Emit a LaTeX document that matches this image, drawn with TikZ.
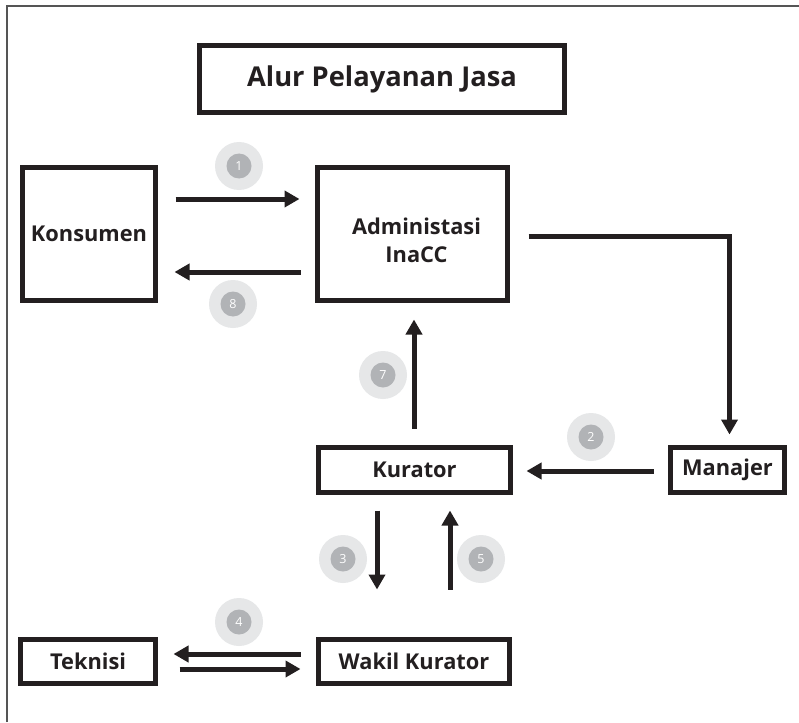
\documentclass[tikz,border=0pt]{standalone}
\usepackage{fontspec}
\setmainfont{Open Sans}
\usetikzlibrary{arrows.meta,calc}
\definecolor{ink}{HTML}{231F20}
\definecolor{framec}{HTML}{555555}
\definecolor{outerc}{HTML}{E6E7E8}
\definecolor{innerc}{HTML}{B1B3B6}
\tikzset{
  box/.style={draw=ink, line width=5pt, fill=white, inner sep=0pt, text=ink, align=center,
    font=\bfseries\fontsize{21.8}{28}\selectfont},
  arr/.style={draw=ink, line width=5pt, -{Triangle[length=15pt,width=16pt]}},
  halo/.style={circle, fill=outerc, minimum size=48pt, inner sep=0pt},
  dot/.style={circle, fill=innerc, minimum size=25pt, inner sep=0pt, text=white,
    font=\fontsize{12.5}{14}\selectfont}
}
\begin{document}
\begin{tikzpicture}[x=1pt,y=-1pt]
\useasboundingbox (0,0) rectangle (799,722);
\fill[white] (0,0) rectangle (799,722);
\draw[framec, line width=2pt] (6.5,722) -- (6.5,6.5) -- (799,6.5);

\node[box, minimum width=365pt, minimum height=67pt, font=\bfseries\fontsize{27.3}{32}\selectfont] (title) at (382,79) {Alur Pelayanan Jasa};
\node[box, minimum width=133pt, minimum height=133pt] (kons) at (89,234) {Konsumen};
\node[box, minimum width=190pt, minimum height=133pt] (admin) at (412.5,234) {};
\node[text=ink, align=center, inner sep=0pt, font=\bfseries\fontsize{21.8}{28}\selectfont] (admintext) at ($(admin.center)+(4,6)$) {Administasi\\InaCC};
\node[box, minimum width=192pt, minimum height=45pt] (kurator) at (414.5,470) {Kurator};
\node[box, minimum width=114pt, minimum height=45pt] (manajer) at (727.5,470) {Manajer};
\node[box, minimum width=191pt, minimum height=44pt] (wakil) at (414,661.5) {Wakil Kurator};
\node[box, minimum width=135pt, minimum height=44pt] (teknisi) at (88,661.5) {Teknisi};

% step markers
\foreach \n/\x/\y in {1/239/166, 8/233/304, 2/591/437, 7/383/375, 3/343/559, 5/481/559, 4/239/622}{
  \node[halo] (h\n) at (\x,\y) {};
  \node[dot] (d\n) at (h\n) {\n};
}

% connectors
\draw[arr] ($(kons.east)+(17.5,-35)$) -- ($(admin.west)+(-15.5,-35)$);
\draw[arr] ($(admin.west)+(-14.5,38)$) -- ($(kons.east)+(16.5,38)$);
\draw[arr, miter limit=10] ($(admin.east)+(18.5,2)$) -| ($(manajer.north)+(2,-10.5)$);
\draw[arr] ($(manajer.west)+(-14.5,1)$) -- ($(kurator.east)+(13.5,1)$);
\draw[arr] ($(kurator.north)+(-0.5,-16.5)$) -- ($(admin.south)+(1.5,16.5)$);
\draw[arr] ($(kurator.south)+(-37.5,15.5)$) -- ($(wakil.north)+(-37,-47.5)$);
\draw[arr] ($(wakil.north)+(36,-47.5)$) -- ($(kurator.south)+(35.5,15.5)$);
\draw[arr] ($(wakil.west)+(-15.5,-7.5)$) -- ($(teknisi.east)+(15.5,-7.5)$);
\draw[arr] ($(teknisi.east)+(21.5,7.5)$) -- ($(wakil.west)+(-15.5,7.5)$);
\end{tikzpicture}
\end{document}
